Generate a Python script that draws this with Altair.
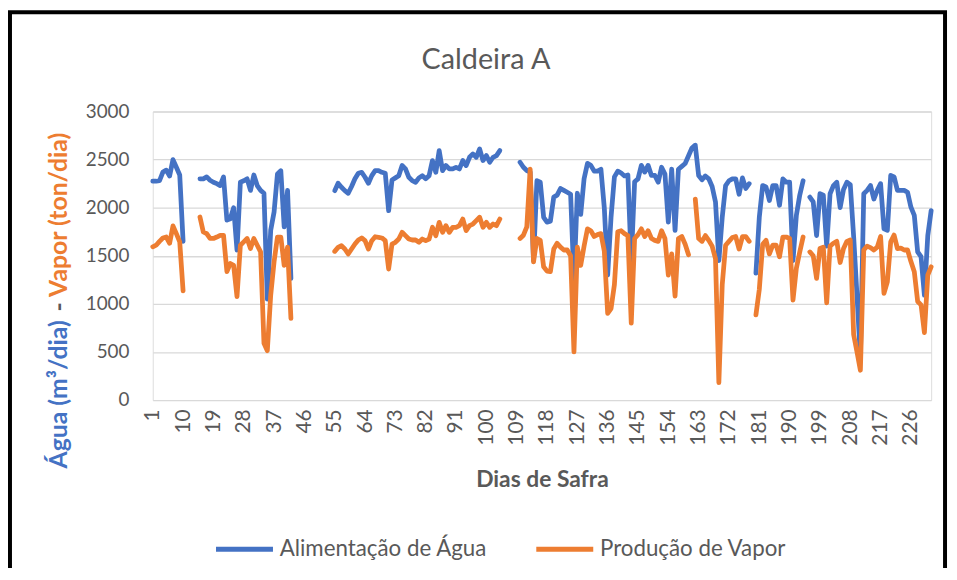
import altair as alt
import pandas as pd

SERIES = ["Alimentação de Água", "Produção de Vapor"]
COLORS = ["#4472C4", "#ED7D31"]
X_TICKS = list(range(1, 233, 9))
Y_TICKS = [0, 500, 1000, 1500, 2000, 2500, 3000]

# Alimentação de Água (m3/dia) — contiguous runs, keyed by first day
W1_START = 1
W1 = [2275, 2275, 2280, 2370, 2390, 2330, 2500, 2420, 2340, 1650]
W2_START = 15
W2 = [2300, 2300, 2320, 2285, 2265, 2250, 2230, 2320, 1870, 1885, 2000, 1560, 2265, 2280,
      2300, 2180, 2340, 2230, 2180, 2150, 1050, 1765, 1955, 2350, 2385, 1800, 2180, 1265]
W3_START = 55
W3 = [2177, 2254, 2212, 2177, 2150, 2220, 2300, 2358, 2368, 2316, 2254, 2333, 2385, 2385,
      2368, 2358, 1969, 2288, 2310, 2333, 2438, 2403, 2316, 2281, 2264, 2310, 2333, 2300,
      2333, 2490, 2368, 2594, 2385, 2438, 2403, 2403, 2420, 2403, 2490, 2438, 2524, 2559,
      2524, 2611, 2490, 2542, 2472, 2524, 2542, 2594]
W4_START = 110
W4 = [2472, 2420, 2386, 2370, 1450, 2280, 2265, 1900, 1850, 1860, 2110, 2130, 2200, 2180,
      2160, 2140, 1250, 2150, 1930, 2300, 2460, 2440, 2380, 2380, 2400, 2000, 1300, 1900,
      2320, 2380, 2360, 2330, 2340, 1440, 2270, 2300, 2440, 2370, 2440, 2335, 2335, 2265,
      2420, 2350, 1850, 2400, 1765, 2400, 2430, 2460, 2540, 2620, 2650, 2335, 2290, 2330,
      2300, 2220, 2060, 1450, 1900, 2230, 2280, 2300, 2300, 2140, 2310, 2200, 2250]
W5_START = 180
W5 = [1320, 1900, 2230, 2215, 2075, 2230, 2230, 2025, 2300, 2265, 2265, 1450, 1920, 2130, 2280]
W6_START = 196
W6 = [2110, 2060, 1710, 2145, 2130, 1600, 2145, 2230, 2265, 2000, 2190, 2265, 2240, 1700,
      1080, 450, 2145, 2180, 2230, 2090, 2180, 2250, 1780, 1765, 2335, 2320, 2180, 2180,
      2180, 2160, 2005, 1920, 1540, 1490, 1090, 1710, 1970]

# Produção de Vapor (ton/dia)
V1_START = 1
V1 = [1593, 1610, 1650, 1685, 1695, 1630, 1810, 1730, 1645, 1135]
V2_START = 15
V2 = [1903, 1748, 1730, 1680, 1680, 1695, 1713, 1713, 1335, 1420, 1400, 1075, 1610, 1645,
      1680, 1575, 1680, 1610, 1540, 590, 513, 1090, 1438, 1695, 1695, 1400, 1590, 850]
V3_START = 55
V3 = [1546, 1587, 1605, 1570, 1518, 1570, 1622, 1664, 1685, 1657, 1570, 1657, 1698, 1692,
      1685, 1657, 1362, 1622, 1640, 1674, 1744, 1709, 1674, 1664, 1664, 1640, 1674, 1657,
      1674, 1796, 1709, 1848, 1744, 1813, 1744, 1796, 1796, 1813, 1882, 1761, 1813, 1830,
      1865, 1900, 1796, 1848, 1796, 1830, 1813, 1882]
V4_START = 110
V4 = [1680, 1714, 1800, 2400, 1437, 1680, 1660, 1385, 1340, 1335, 1570, 1630, 1590, 1560,
      1560, 1500, 500, 1590, 1400, 1600, 1780, 1760, 1700, 1720, 1730, 1550, 900, 950,
      1200, 1750, 1760, 1730, 1710, 800, 1680, 1720, 1780, 1700, 1760, 1680, 1660, 1650,
      1760, 1680, 1300, 1520, 1080, 1680, 1700, 1620, 1510]
V5_START = 162
V5 = [2090, 1680, 1650, 1710, 1660, 1600, 1470, 180, 1200, 1610, 1650, 1690, 1700, 1570,
      1700, 1700, 1650]
V6_START = 180
V6 = [885, 1150, 1620, 1660, 1520, 1610, 1610, 1490, 1695, 1695, 1680, 1040, 1370, 1540, 1695]
V7_START = 196
V7 = [1540, 1500, 1265, 1575, 1590, 1010, 1600, 1630, 1650, 1430, 1575, 1650, 1665, 680,
      500, 310, 1560, 1600, 1585, 1560, 1590, 1700, 1110, 1230, 1645, 1715, 1575, 1580,
      1560, 1560, 1440, 1335, 1025, 990, 700, 1300, 1385]

runs = [
    (SERIES[0], W1_START, W1), (SERIES[0], W2_START, W2), (SERIES[0], W3_START, W3),
    (SERIES[0], W4_START, W4), (SERIES[0], W5_START, W5), (SERIES[0], W6_START, W6),
    (SERIES[1], V1_START, V1), (SERIES[1], V2_START, V2), (SERIES[1], V3_START, V3),
    (SERIES[1], V4_START, V4), (SERIES[1], V5_START, V5), (SERIES[1], V6_START, V6),
    (SERIES[1], V7_START, V7),
]
rows = []
for k, (name, start, vals) in enumerate(runs):
    for i, v in enumerate(vals):
        rows.append({"serie": name, "dia": start + i, "valor": v, "seg": k})
df = pd.DataFrame(rows)

GREY = "#595959"
FONT = "Lato"
W, H = 785, 291

x_enc = alt.X("dia:Q", scale=alt.Scale(domain=[1, 232], nice=False, zero=False),
              axis=alt.Axis(values=X_TICKS, labelAngle=270, title="Dias de Safra",
                            grid=False, ticks=False, domain=False, labelPadding=9,
                            labelFontSize=21, labelColor=GREY, labelFont=FONT,
                            titleFont=FONT, titleFontSize=23, titleFontWeight="bold",
                            titleColor=GREY, titlePadding=24, labelOverlap=False))
y_enc = alt.Y("valor:Q", scale=alt.Scale(domain=[0, 3000], nice=False),
              axis=alt.Axis(values=Y_TICKS, title=None, grid=True, gridColor="#D9D9D9",
                            gridWidth=1.3, domain=False, ticks=False, tickSize=0,
                            format="d", labelPadding=24, labelFontSize=19,
                            labelColor=GREY, labelFont=FONT))
color_enc = alt.Color("serie:N", scale=alt.Scale(domain=SERIES, range=COLORS),
                      legend=alt.Legend(orient="none", legendX=61, legendY=410,
                                        direction="horizontal", title=None,
                                        symbolType="stroke", symbolStrokeWidth=5,
                                        symbolSize=3300, labelFontSize=22.5,
                                        labelColor=GREY, labelFont=FONT, labelLimit=0,
                                        labelOffset=4, columnPadding=38, padding=0))

base = alt.Chart(df)
water = base.transform_filter(alt.datum.serie == SERIES[0]).mark_line(
    strokeWidth=4.8, strokeCap="round", strokeJoin="round"
).encode(x=x_enc, y=y_enc, color=color_enc, detail="seg:N")
steam = base.transform_filter(alt.datum.serie == SERIES[1]).mark_line(
    strokeWidth=4.8, strokeCap="round", strokeJoin="round"
).encode(x=x_enc, y=y_enc, color=color_enc, detail="seg:N")

one = pd.DataFrame({"k": [0]})
title = alt.Chart(one).mark_text(text="Caldeira A", fontSize=29, font=FONT, color=GREY,
                                 align="center", baseline="middle").encode(
    x=alt.value(336), y=alt.value(-52))
yt1 = alt.Chart(one).mark_text(text="Água (m³/dia)", fontSize=25, font=FONT,
                               fontWeight="bold", color=COLORS[0], angle=270,
                               align="left", baseline="middle").encode(
    x=alt.value(-94), y=alt.value(360))
yt2 = alt.Chart(one).mark_text(text="-", fontSize=25, font=FONT, fontWeight="bold",
                               color=GREY, angle=270, align="center",
                               baseline="middle").encode(x=alt.value(-94), y=alt.value(197))
yt3 = alt.Chart(one).mark_text(text="Vapor (ton/dia)", fontSize=25, font=FONT,
                               fontWeight="bold", color=COLORS[1], angle=270,
                               align="left", baseline="middle").encode(
    x=alt.value(-94), y=alt.value(187))
frame = alt.Chart(one).mark_rect(filled=False, stroke="black", strokeWidth=4).encode(
    x=alt.value(-144), x2=alt.value(799), y=alt.value(-100), y2=alt.value(466))

chart = alt.layer(water, steam, title, yt1, yt2, yt3, frame).properties(
    width=W, height=H,
    autosize=alt.AutoSizeParams(type="none"),
    padding={"left": 146, "top": 102, "right": 18, "bottom": 167},
).configure_view(stroke=None).configure(background="white")

chart.save("out.html", embed_options={"renderer": "svg", "actions": False})
